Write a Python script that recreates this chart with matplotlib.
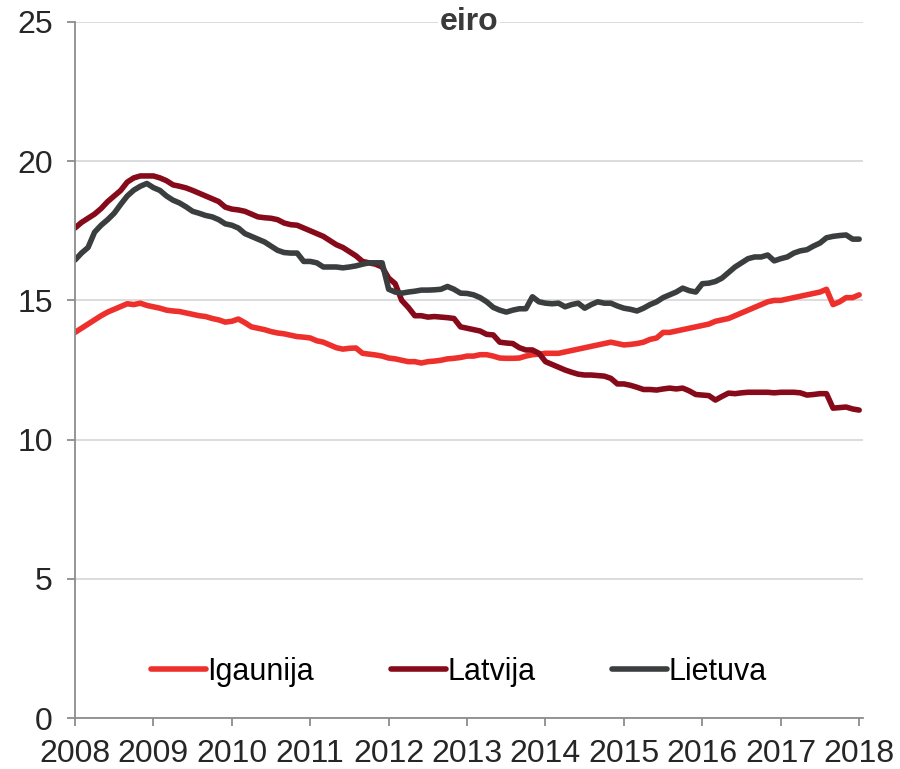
import matplotlib
matplotlib.use('Agg')
import matplotlib.pyplot as plt
import numpy as np

plt.rcParams['font.family'] = ['Liberation Sans', 'DejaVu Sans']
plt.rcParams.update({'font.size': 23})

# monthly values, Jan 2008 .. Jan 2018
igaunija = [
    13.85, 14.0, 14.15, 14.3, 14.45, 14.58, 14.68, 14.78, 14.88, 14.85, 14.9, 14.82,
    14.77, 14.72, 14.65, 14.62, 14.6, 14.55, 14.5, 14.45, 14.42, 14.35, 14.3, 14.22,
    14.25, 14.33, 14.2, 14.05, 14.0, 13.95, 13.88, 13.83, 13.8, 13.75, 13.7, 13.68,
    13.65, 13.55, 13.5, 13.4, 13.3, 13.25, 13.28, 13.29, 13.1, 13.07, 13.04, 13.0,
    12.93, 12.9, 12.85, 12.8, 12.8, 12.75, 12.8, 12.82, 12.85, 12.9, 12.92, 12.95,
    13.0, 13.0, 13.05, 13.05, 13.0, 12.93, 12.92, 12.92, 12.93, 13.0, 13.05, 13.07,
    13.1, 13.1, 13.1, 13.15, 13.2, 13.25, 13.3, 13.35, 13.4, 13.45, 13.5, 13.45,
    13.4, 13.42, 13.45, 13.5, 13.6, 13.65, 13.85, 13.85, 13.9, 13.95, 14.0, 14.05,
    14.1, 14.15, 14.25, 14.3, 14.35, 14.45, 14.55, 14.65, 14.75, 14.85, 14.95, 15.0,
    15.0, 15.05, 15.1, 15.15, 15.2, 15.25, 15.3, 15.4, 14.85, 14.95, 15.1, 15.1,
    15.2]

latvija = [
    17.6, 17.8, 17.95, 18.1, 18.3, 18.55, 18.75, 18.95, 19.25, 19.4, 19.47, 19.47,
    19.47, 19.4, 19.3, 19.15, 19.1, 19.04, 18.95, 18.85, 18.75, 18.65, 18.55, 18.35,
    18.28, 18.25, 18.2, 18.1, 18.0, 17.97, 17.95, 17.9, 17.78, 17.72, 17.7, 17.6,
    17.5, 17.4, 17.3, 17.15, 17.0, 16.9, 16.75, 16.6, 16.4, 16.35, 16.3, 16.2,
    15.8, 15.6, 15.0, 14.75, 14.45, 14.45, 14.4, 14.42, 14.4, 14.38, 14.35, 14.05,
    14.0, 13.95, 13.9, 13.78, 13.76, 13.5, 13.47, 13.45, 13.3, 13.22, 13.22, 13.1,
    12.8, 12.7, 12.6, 12.5, 12.42, 12.35, 12.32, 12.32, 12.3, 12.28, 12.2, 12.0,
    12.0, 11.95, 11.88, 11.8, 11.8, 11.78, 11.82, 11.85, 11.82, 11.85, 11.75, 11.62,
    11.6, 11.58, 11.42, 11.55, 11.67, 11.65, 11.68, 11.7, 11.7, 11.7, 11.7, 11.68,
    11.7, 11.7, 11.7, 11.68, 11.6, 11.62, 11.65, 11.65, 11.13, 11.15, 11.17, 11.1,
    11.06]

lietuva = [
    16.45, 16.7, 16.9, 17.45, 17.7, 17.9, 18.13, 18.45, 18.75, 18.96, 19.1, 19.2,
    19.05, 18.95, 18.75, 18.6, 18.5, 18.36, 18.2, 18.13, 18.05, 18.0, 17.9, 17.75,
    17.7, 17.6, 17.4, 17.3, 17.2, 17.1, 16.95, 16.8, 16.72, 16.7, 16.7, 16.4,
    16.4, 16.35, 16.2, 16.2, 16.2, 16.17, 16.2, 16.24, 16.3, 16.35, 16.35, 16.35,
    15.4, 15.3, 15.26, 15.3, 15.33, 15.37, 15.37, 15.38, 15.4, 15.5, 15.4, 15.26,
    15.25, 15.2, 15.1, 14.95, 14.75, 14.65, 14.58, 14.65, 14.7, 14.7, 15.13, 14.95,
    14.9, 14.88, 14.9, 14.77, 14.85, 14.9, 14.72, 14.85, 14.95, 14.9, 14.9, 14.8,
    14.72, 14.68, 14.62, 14.72, 14.85, 14.95, 15.1, 15.2, 15.3, 15.44, 15.35, 15.3,
    15.6, 15.62, 15.68, 15.8, 16.0, 16.2, 16.35, 16.5, 16.56, 16.56, 16.63, 16.42,
    16.5, 16.56, 16.7, 16.78, 16.82, 16.95, 17.06, 17.25, 17.3, 17.33, 17.35, 17.2,
    17.2]

years = list(range(2008, 2019))
t = 2008 + np.arange(len(igaunija)) / 12.0

fig = plt.figure(figsize=(9, 7.69), dpi=100)
ax = fig.add_axes([0.0833, 0.0663, 0.8757, 0.9051])

ax.plot(t, igaunija, color='#EE302C', lw=4, label='Igaunija', solid_capstyle='round')
ax.plot(t, latvija, color='#860A19', lw=4, label='Latvija', solid_capstyle='round')
ax.plot(t, lietuva, color='#3A3E3E', lw=4, label='Lietuva', solid_capstyle='round')

ax.set_xlim(2008, 2018.05)
ax.set_ylim(0, 25)
ax.set_xticks(years)
ax.set_xticklabels([str(y) for y in years])
ax.set_yticks(range(0, 26, 5))
ax.yaxis.grid(True, color='#D9D9D9', lw=1.3)
ax.set_axisbelow(True)
for s in ['top', 'right']:
    ax.spines[s].set_visible(False)
for s in ['left', 'bottom']:
    ax.spines[s].set_color('#8C8C8C')
    ax.spines[s].set_linewidth(1.3)
ax.tick_params(axis='both', colors='#8C8C8C', labelcolor='#262626', length=6, width=1.3)
ax.tick_params(axis='y', pad=10)
ax.tick_params(axis='x', pad=9)

ax.text(0.5, 1.0, 'eiro', transform=ax.transAxes, ha='center', va='center',
        fontsize=23, fontweight='bold', color='#3A3A3A',
        bbox=dict(facecolor='white', edgecolor='none', pad=1))

ax.legend(loc='lower center', bbox_to_anchor=(0.487, 0.005), ncol=3, frameon=False,
          handlelength=1.8, handletextpad=0.05, columnspacing=2.5, fontsize=22)

plt.savefig('out.png', dpi=100)
